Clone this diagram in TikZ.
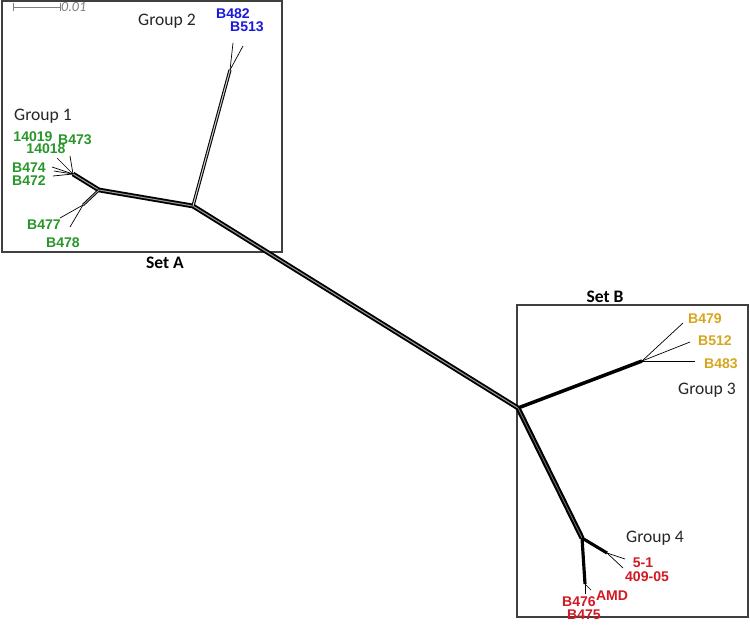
\documentclass[tikz,border=0pt]{standalone}
\usepackage{fontspec}
\setmainfont{Liberation Sans}
\newfontfamily\grpfont{Carlito}
\definecolor{grpone}{RGB}{40,150,40}
\definecolor{grptwo}{RGB}{25,25,220}
\definecolor{grpthree}{RGB}{215,165,30}
\definecolor{grpfour}{RGB}{210,25,35}
\tikzset{
  leaf/.style={line width=0.4pt},
  band/.style={line width=1.05pt, double=black!40, double distance=0.6pt},
  thickband/.style={line width=1.2pt, double=black!55, double distance=0.5pt},
  frame/.style={draw=black!75, line width=0.6pt},
  strain/.style={font=\fontsize{8}{8.5}\selectfont\bfseries, inner sep=0pt},
  group/.style={font=\grpfont\fontsize{10}{11}\selectfont, text=black!85, inner sep=0pt},
  setlabel/.style={font=\grpfont\fontsize{10}{11}\selectfont\bfseries, inner sep=0pt},
}
\begin{document}
\begin{tikzpicture}[x=0.02cm, y=-0.02cm]
        \useasboundingbox (0,0) rectangle (750,625);

        % Frames of the two sets
        \draw [frame] (2,1) rectangle (282,252);%
        \draw [frame] (517,305) rectangle (748,617);%
        \node [setlabel] (setA) at (165,263) {Set A};%
        \node [setlabel] (setB) at (605,297) {Set B};%

        % Scale bar
        \coordinate (sbl) at (13,7);%
        \coordinate (sbr) at (60,7);%
        \draw [black!50, line width=0.4pt] (sbl) -- (sbr);%
        \draw [black!50, line width=0.4pt] ([yshift=-2.5]sbl) -- ([yshift=2.5]sbl);%
        \draw [black!50, line width=0.4pt] ([yshift=-2.5]sbr) -- ([yshift=2.5]sbr);%
        \node [anchor=west, inner sep=0.5pt, text=black!50, font=\grpfont\itshape\fontsize{8}{9}\selectfont] (sbt) at (sbr) {0.01};%

        % Inner splits of the network
        \coordinate (nA) at (193,206);%
        \coordinate (nB) at (518,408);%
        \coordinate (g1) at (99,190);%
        \coordinate (g1u) at (73,174);%
        \coordinate (g1l) at (83,205);%
        \coordinate (g2) at (230,70);%
        \coordinate (g3) at (642,361);%
        \coordinate (g4) at (582,538);%
        \coordinate (g4r) at (607,553);%
        \coordinate (g4d) at (585,584);%

        % Drawing the long branches
        \draw [band] (nA) -- (nB);%
        \draw [band] (nA) -- (g1);%
        \draw [band] (g1) -- (g1u);%
        \draw [band, line width=0.5pt, double distance=0.5pt] (g1) -- (g1l);%
        \draw [band, line width=0.6pt, double=black!20] (nA) -- (g2);%
        \draw [line width=2pt] (nB) -- (g3);%
        \draw [thickband] (nB) -- (g4);%
        \draw [line width=1.8pt] (g4) -- (g4r);%
        \draw [line width=1.8pt] (g4) -- (g4d);%

        % Group 1 leaves
        \foreach \name/\pos in {l14019/{57,158}, l14018/{52,167}, l473/{70,156}, l474/{54,171}, l472/{53,176}}
          \coordinate (\name) at (\pos);
        \foreach \name in {l14019, l14018, l473, l474, l472}
          \draw [leaf] (g1u) -- (\name);
        \coordinate (l477) at (60,218);%
        \coordinate (l478) at (70,227);%
        \draw [leaf] (g1l) -- (l477);%
        \draw [leaf] (g1l) -- (l478);%

        % Group 2 leaves
        \coordinate (l482) at (233,43);%
        \coordinate (l513) at (243,46);%
        \draw [leaf] (g2) -- (l482);%
        \draw [leaf] (g2) -- (l513);%

        % Group 3 leaves
        \coordinate (l479) at (683,323);%
        \coordinate (l512) at (690,342);%
        \coordinate (l483) at (695,361);%
        \foreach \name in {l479, l512, l483}
          \draw [leaf] (g3) -- (\name);

        % Group 4 leaves
        \coordinate (l51) at (625,559);%
        \coordinate (l409) at (623,568);%
        \coordinate (l476) at (585,594);%
        \coordinate (lamd) at (591,590);%
        \draw [leaf] (g4r) -- (l51);%
        \draw [leaf] (g4r) -- (l409);%
        \draw [leaf] (g4d) -- (l476);%
        \draw [leaf] (g4d) -- (lamd);%

        % Group names
        \node [group] (grp1) at (43,116) {Group 1};%
        \node [group] (grp2) at (167,21) {Group 2};%
        \node [group] (grp3) at (707,390) {Group 3};%
        \node [group] (grp4) at (655,538) {Group 4};%

        % Strain labels
        {\color{grpone}
        \node [strain] (t14019) at (33,137) {14019};%
        \node [strain] (t14018) at (46,149) {14018};%
        \node [strain] (t473) at (75,140) {B473};%
        \node [strain] (t474) at (29,168) {B474};%
        \node [strain] (t472) at (29,181) {B472};%
        \node [strain] (t477) at (44,225) {B477};%
        \node [strain] (t478) at (63,243) {B478};%
        }
        {\color{grptwo}
        \node [strain] (t482) at (233,14) {B482};%
        \node [strain] (t513) at (247,27) {B513};%
        }
        {\color{grpthree}
        \node [strain] (t479) at (705,319) {B479};%
        \node [strain] (t512) at (715,341) {B512};%
        \node [strain] (t483) at (721,364) {B483};%
        }
        {\color{grpfour}
        \node [strain] (t51) at (643,563) {5-1};%
        \node [strain] (t409) at (647,577) {409-05};%
        \node [strain] (tamd) at (612,596) {AMD};%
        \node [strain] (t476) at (579,602) {B476};%
        \node [strain] (t475) at (584,615) {B475};%
        }
    \end{tikzpicture}
\end{document}
